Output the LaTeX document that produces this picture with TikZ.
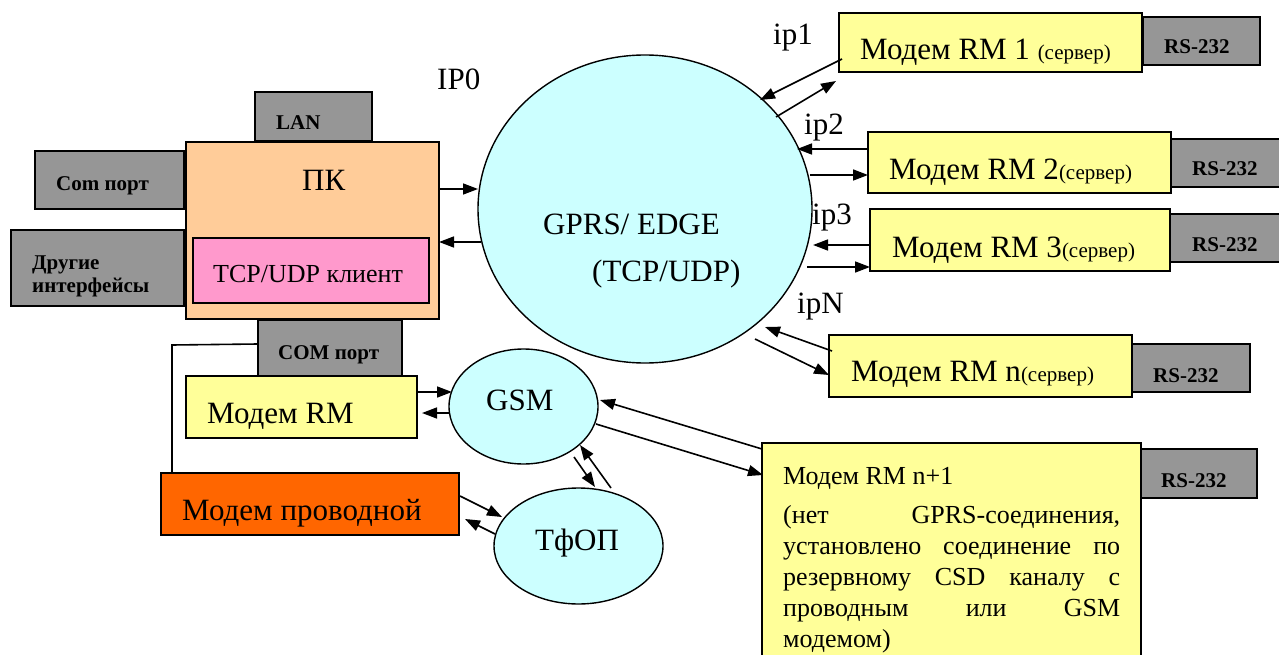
\documentclass[tikz,border=0pt]{standalone}
\usepackage{fontspec}
\setmainfont{Liberation Serif}
\usetikzlibrary{arrows.meta,calc,shapes.geometric}
\definecolor{grayb}{HTML}{969696}
\definecolor{ylw}{HTML}{FFFF99}
\definecolor{cyn}{HTML}{CCFFFF}
\definecolor{peach}{HTML}{FFCC99}
\definecolor{pnk}{HTML}{FF99CC}
\definecolor{orng}{HTML}{FF6600}
\newcommand{\srv}{{\fontsize{21}{25}\selectfont(сервер)}}
\begin{document}
\begin{tikzpicture}[x=1pt,y=-1pt,
  box/.style={draw=black,line width=1.6pt,inner sep=0pt,outer sep=0pt,anchor=north west,rectangle},
  graybox/.style={box,fill=grayb},
  ylwbox/.style={box,fill=ylw},
  cloud/.style={draw=black,line width=1.4pt,fill=cyn,ellipse,inner sep=0pt,outer sep=0pt},
  big/.style={font=\fontsize{31}{37}\selectfont,anchor=base west,inner sep=0pt},
  mid/.style={font=\fontsize{26}{31}\selectfont,anchor=base west,inner sep=0pt},
  bsmall/.style={font=\bfseries\fontsize{21}{24}\selectfont,anchor=base west,inner sep=0pt},
  arr/.style={line width=1.6pt,-{Triangle[length=15pt,width=11pt]}},
  plainline/.style={line width=1.6pt}]
\useasboundingbox (0,0) rectangle (1279,655);

% ---------- PC block ----------
\node[graybox,minimum width=117pt,minimum height=49pt] (lan) at (255,92) {};
\node[graybox,minimum width=149pt,minimum height=58pt] (comp) at (35,151) {};
\node[graybox,minimum width=173pt,minimum height=76pt] (other) at (11,230) {};
\node[graybox,minimum width=144pt,minimum height=57pt] (com) at (258,320) {};
\node[box,fill=peach,minimum width=253pt,minimum height=177pt] (pc) at (186,142) {};
\node[box,fill=pnk,minimum width=236pt,minimum height=65pt] (tcp) at (193,238) {};
\node[ylwbox,minimum width=231pt,minimum height=62pt] (mrm) at (186,376) {};
\node[box,fill=orng,minimum width=298pt,minimum height=62pt] (mwire) at (161,473) {};

\node[bsmall] (tlan) at (276,130) {LAN};
\node[bsmall] (tcomp) at (56,190) {Com порт};
\node[bsmall] (tother1) at (32,269) {Другие};
\node[bsmall] (tother2) at (32,292) {интерфейсы};
\node[big] (tpc) at (302,191) {ПК};
\node[mid] (ttcp) at (213,282) {TCP/UDP клиент};
\node[bsmall] (tcom) at (278,359) {COM порт};
\node[big] (tmrm) at (207,423) {Модем RM};
\node[big] (tmwire) at (182,520) {Модем проводной};

% ---------- clouds ----------
\node[cloud,minimum width=334pt,minimum height=308pt] (net) at (645,209) {};
\node[cloud,minimum width=149pt,minimum height=115pt] (gsm) at (523.5,406.5) {};
\node[cloud,minimum width=169pt,minimum height=116pt] (tfop) at (578.5,546) {};
\node[big] (tip0) at (437,90) {IP0};
\node[big] (tgprs) at (543,234) {GPRS/ EDGE};
\node[big] (ttcpudp) at (592,281) {(TCP/UDP)};
\node[big] (tgsm) at (486,410) {GSM};
\node[big] (ttfop) at (535,550) {ТфОП};

% ---------- server modems ----------
\node[graybox,minimum width=117pt,minimum height=48pt] (rs1) at (1143,17) {};
\node[ylwbox,minimum width=303pt,minimum height=59pt] (m1) at (839,13) {};
\node[graybox,minimum width=117pt,minimum height=48pt] (rs2) at (1171,139) {};
\node[ylwbox,minimum width=303pt,minimum height=61pt] (m2) at (868,132) {};
\node[graybox,minimum width=117pt,minimum height=48pt] (rs3) at (1170,214) {};
\node[ylwbox,minimum width=300pt,minimum height=62pt] (m3) at (870,209) {};
\node[graybox,minimum width=118pt,minimum height=48pt] (rsn) at (1132,344) {};
\node[ylwbox,minimum width=303pt,minimum height=62pt] (mn) at (829,335) {};
\node[graybox,minimum width=117pt,minimum height=49pt] (rsn1) at (1140,449) {};
\node[ylwbox,minimum width=379pt,minimum height=240pt] (mn1) at (762,443) {};

\node[big] (tm1) at (860,60) {Модем RM 1 \srv};
\node[big] (tm2) at (889,180) {Модем RM 2\srv};
\node[big] (tm3) at (892,257) {Модем RM 3\srv};
\node[big] (tmn) at (851,381) {Модем RM n\srv};
\node[bsmall] (trs1) at (1164,54) {RS-232};
\node[bsmall] (trs2) at (1192,176) {RS-232};
\node[bsmall] (trs3) at (1192,251) {RS-232};
\node[bsmall] (trsn) at (1153,382) {RS-232};
\node[bsmall] (trsn1) at (1161,487) {RS-232};
\node[mid] (tmn1) at (783,484) {Модем RM n+1};
\node[mid,text width=337pt,align=justify] (tmn1b) at (783,523)
  {\hyphenpenalty=10000\exhyphenpenalty=10000
   (нет GPRS-соединения,\linebreak установлено соединение по\linebreak
   резервному CSD каналу с\linebreak проводным или GSM\linebreak модемом)};

\node[big] (tip1) at (773,45) {ip1};
\node[big] (tip2) at (804,135) {ip2};
\node[big] (tip3) at (812,225) {ip3};
\node[big] (tipn) at (797,313) {ipN};

% ---------- connectors ----------
\draw[arr] (pc.east |- 0,189) -- (478,189);
\draw[arr] (481,242) -- (pc.east |- 0,242);

\coordinate (a1s) at (842,59);  \coordinate (a1e) at (760,100);
\coordinate (a2s) at (776,117); \coordinate (a2e) at (836,81);
\draw[arr] (a1s) -- (a1e);
\draw[arr] (a2s) -- (a2e);
\draw[arr] (m2.west |- 0,149) -- (797,149);
\draw[arr] (810,175) -- (m2.west |- 0,175);
\draw[arr] (m3.west |- 0,245) -- (813,245);
\draw[arr] (807,267) -- (m3.west |- 0,267);
\coordinate (a7s) at (832,351); \coordinate (a7e) at (765,327);
\coordinate (a8s) at (755,339); \coordinate (a8e) at (829,375);
\draw[arr] (a7s) -- (a7e);
\draw[arr] (a8s) -- (a8e);
\coordinate (a9s) at (762,449); \coordinate (a9e) at (600,400);
\coordinate (a10s) at (596,424); \coordinate (a10e) at (763,475);
\draw[arr] (a9s) -- (a9e);
\draw[arr] (a10s) -- (a10e);

\draw[arr] (mrm.east |- 0,392) -- (452,392);
\draw[arr] (449,413) -- (422,413);
\coordinate (g3s) at (574,457); \coordinate (g3e) at (595,487);
\coordinate (g4s) at (611,488); \coordinate (g4e) at (580,445);
\draw[arr] (g3s) -- (g3e);
\draw[arr] (g4s) -- (g4e);
\coordinate (w1s) at (460,496); \coordinate (w1e) at (502,517);
\coordinate (w2s) at (495,534); \coordinate (w2e) at (465,519);
\draw[arr] (w1s) -- (w1e);
\draw[arr] (w2s) -- (w2e);

\coordinate (corner) at (172,345);
\draw[plainline] (com.west |- 0,344) -- (corner) -- (mwire.north west -| corner);
\end{tikzpicture}
\end{document}
